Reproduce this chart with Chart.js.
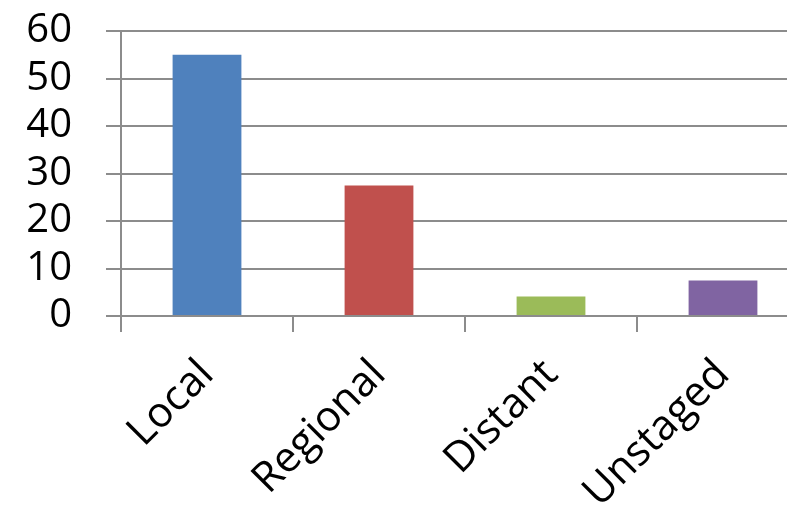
<!DOCTYPE html>
<html>
<head>
<meta charset="utf-8">
<script src="https://cdn.jsdelivr.net/npm/chart.js@4"></script>
<style>
  html, body { margin: 0; padding: 0; background: #fff; overflow: hidden; }
  #wrap { width: 809px; height: 511px; }
</style>
</head>
<body>
<div id="wrap"><canvas id="myChart" width="809" height="511"></canvas></div>
<script>
const categories = ['Local', 'Regional', 'Distant', 'Unstaged'];
const values = [55, 27.5, 4.1, 7.5];
const barColors = ['#4F81BD', '#C0504D', '#9BBB59', '#8064A2'];
const yTicks = [0, 10, 20, 30, 40, 50, 60];

const ctx = document.getElementById('myChart').getContext('2d');

const config = {
    type: 'bar',
    data: {
        labels: categories,
        datasets: [{
            data: values,
            backgroundColor: barColors,
            borderWidth: 0,
            barPercentage: 0.4,
            categoryPercentage: 1
        }]
    },
    options: {
        responsive: false,
        animation: false,
        layout: {
            padding: 0
        },
        scales: {
            y: {
                min: 0,
                max: 60,
                afterBuildTicks: (axis) => { axis.ticks = yTicks.map(v => ({ value: v })); },
                afterFit: (axis) => {
                    axis.width = 121;
                    // tick padding is big, keep it from pushing the plot down
                    axis.paddingTop = 31;
                    axis.paddingBottom = 0;
                },
                grid: {
                    color: '#8c8c8c',
                    lineWidth: 2,
                    tickLength: 15
                },
                border: { color: '#8c8c8c', width: 2 },
                ticks: {
                    color: '#000',
                    padding: 34,
                    autoSkip: false,
                    font: { family: 'Open Sans', size: 40 }
                }
            },
            x: {
                afterFit: (axis) => { axis.height = 195; },
                grid: {
                    drawOnChartArea: false,
                    color: '#8c8c8c',
                    lineWidth: 2,
                    tickLength: 16,
                    offset: true
                },
                border: { color: '#8c8c8c', width: 2 },
                ticks: {
                    color: '#000',
                    minRotation: 45,
                    maxRotation: 45,
                    autoSkip: false,
                    padding: 18,
                    font: { family: 'Open Sans', size: 42 }
                }
            }
        },
        plugins: {
            legend: { display: false },
            tooltip: { enabled: false }
        }
    }
};

let myChart = new Chart(ctx, config);
</script>
</body>
</html>
